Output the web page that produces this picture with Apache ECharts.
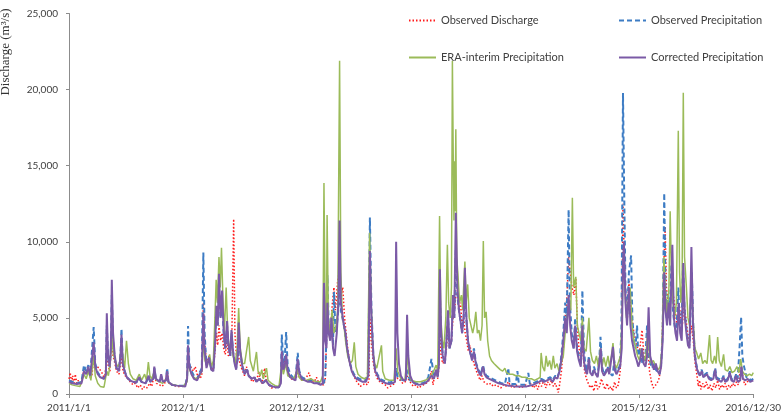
<!DOCTYPE html>
<html>
<head>
<meta charset="utf-8">
<script src="https://cdn.jsdelivr.net/npm/echarts@6/dist/echarts.min.js"></script>
<style>
  html, body { margin: 0; padding: 0; background: #fff; }
  #chart { width: 784px; height: 420px; }
</style>
</head>
<body>
<div id="chart"></div>
<script>
// x = days since 2011/1/1, y = discharge (m3/s)
const xLabels = ['2011/1/1', '2012/1/1', '2012/12/31', '2013/12/31', '2014/12/31', '2015/12/31', '2016/12/30']

const obsDischarge = [
  [0,1000],[4,1400],[8,700],[12,1200],[16,600],[20,1300],[25,700],[30,900],[36,600],[42,800],[48,1700],[55,1300],[62,1600],[68,1100],[74,1300],[79,2500],[84,1900],[90,1800],[96,1700],[102,1500],[108,1300],[114,1000],[121,2500],[126,1800],[131,1500],[137,4000],[141,2500],[147,2000],[152,1500],[160,1300],[168,2500],[173,1500],[180,1200],[188,1000],[196,800],[205,600],[212,700],[220,400],[228,600],[235,300],[242,500],[250,400],[258,700],[265,500],[273,1300],[280,700],[290,600],[298,500],[306,700],[314,1400],[320,700],[330,600],[345,500],[360,500],[372,600],
  [378,1000],[381,3000],[386,1900],[392,1800],[398,1500],[404,1800],[410,1300],[418,1000],[425,1200],[430,6000],[434,3500],[440,2000],[448,2500],[455,1700],[462,1600],[468,3000],[472,4000],[476,3200],[480,4500],[485,3500],[490,4000],[495,3000],[500,2600],[506,3500],[510,2500],[516,2700],[521,3500],[527,11500],[531,4000],[536,2500],[540,2800],[545,2200],[550,1800],[556,1500],[562,1200],[568,1800],[574,1300],[580,1000],[588,800],[595,1100],[600,800],[607,1500],[612,900],[618,700],[626,1700],[632,800],[640,600],[648,400],[656,450],[664,400],[672,450],[678,800],[681,2500],[686,2000],[692,2200],[698,1500],[705,1200],[712,1000],[720,900],[728,1100],[733,1800],[738,1200],[745,900],[752,1000],[760,1100],[768,1400],[775,900],[785,800],[792,1100],[800,700],[808,600],[815,600],
  [820,900],[824,3500],[827,6000],[832,4000],[838,4500],[843,6000],[848,7000],[853,5500],[860,7500],[866,8100],[871,6500],[876,7000],[882,5000],[887,4000],[892,3000],[899,2000],[906,1500],[912,1200],[918,900],[925,700],[932,500],[940,600],[948,700],[955,600],[960,900],[963,5000],[968,3500],[974,2000],[980,1400],[987,1000],[995,800],[1003,700],[1012,600],[1020,400],[1028,500],[1036,600],[1043,700],[1047,1500],[1052,1000],[1060,900],[1068,700],[1076,800],[1082,1200],[1088,900],[1095,700],[1102,500],[1110,600],[1118,400],[1126,500],[1134,600],[1142,700],[1150,800],[1155,1100],[1160,1500],[1165,600],[1170,1200],[1176,1600],[1180,1000],
  [1184,1800],[1187,4000],[1191,2500],[1196,2000],[1203,2200],[1208,3000],[1213,4500],[1218,3000],[1224,3500],[1229,5000],[1234,5500],[1238,6500],[1243,6800],[1248,5500],[1253,6000],[1258,4500],[1263,5000],[1268,4000],[1273,3500],[1278,2800],[1283,3200],[1290,2500],[1296,2000],[1302,1600],[1310,1200],[1316,900],[1322,1200],[1328,800],[1335,700],[1342,600],[1350,700],[1358,500],[1366,600],[1374,500],[1382,400],[1390,600],[1398,500],[1406,800],[1414,500],[1422,400],[1430,600],[1438,500],[1446,400],[1454,500],[1462,600],
  [1470,500],[1478,700],[1486,400],[1494,600],[1500,300],[1506,700],[1512,500],[1520,900],[1526,400],[1532,800],[1538,600],[1544,900],[1550,500],[1556,700],[1562,400],[1566,100],[1570,600],[1576,1500],[1582,3000],[1588,5000],[1594,6500],[1599,9000],[1604,8000],[1610,7000],[1616,6500],[1622,7600],[1627,4500],[1632,3000],[1638,2400],[1644,3000],[1650,1500],[1656,1000],[1662,700],[1668,400],[1674,600],[1680,200],[1686,900],[1692,300],[1698,500],[1704,1000],[1710,600],[1716,300],[1722,700],[1728,300],[1734,500],[1740,200],[1746,800],[1752,400],[1758,600],[1764,1500],[1769,4000],[1773,12500],[1777,9000],[1782,6000],[1787,5000],[1792,7500],[1797,6000],[1802,5000],[1808,4000],[1814,3500],[1820,3000],[1826,2800],[1834,4200],[1840,2500],[1846,2000],[1852,3000],[1858,1500],[1864,800],[1870,400],[1876,300],[1882,700],[1888,1000],[1893,1500],
  [1898,3000],[1903,8000],[1908,11000],[1912,7000],[1917,6000],[1922,5500],[1928,7000],[1934,6500],[1940,5500],[1946,4500],[1952,6000],[1958,5000],[1963,4500],[1968,6000],[1974,5000],[1980,4000],[1986,3500],[1992,4500],[1998,3500],[2004,2000],[2010,1200],[2014,500],[2018,900],[2022,300],[2028,700],[2034,400],[2040,800],[2046,300],[2052,600],[2058,200],[2064,700],[2070,400],[2076,900],[2082,300],[2088,600],[2094,400],[2100,700],[2106,300],[2112,600],[2118,400],[2124,700],[2130,500],[2136,800],[2142,600],[2148,1500],[2152,1800],[2158,900],[2164,600],[2170,800],[2176,700],[2182,900],[2190,800]
]

const obsPrecip = [
  [0,900],[10,800],[25,700],[40,800],[48,1900],[55,1500],[62,1900],[68,1300],[74,1400],[79,4400],[84,2000],[92,1400],[100,1200],[112,1000],[118,1200],[121,4500],[125,2400],[130,1800],[134,2800],[137,6500],[141,3500],[146,2400],[152,1700],[160,1600],[165,2700],[168,4300],[172,2100],[178,1500],[185,1100],[195,900],[205,800],[215,750],[225,1000],[232,800],[245,700],[255,1100],[260,800],[270,1000],[273,1700],[278,1000],[290,800],[295,1200],[300,800],[310,900],[314,1700],[318,800],[330,600],[345,550],[360,550],[372,550],
  [378,1100],[381,4470],[385,2000],[392,1500],[400,1200],[410,1000],[418,1400],[425,1700],[430,9300],[434,4000],[440,1900],[448,2400],[455,1700],[462,1600],[468,3800],[472,5500],[476,4500],[480,7000],[485,5000],[490,6000],[495,4000],[500,3000],[506,4500],[510,3200],[516,2500],[520,4000],[525,2800],[530,2100],[535,1700],[540,2300],[543,4000],[548,2700],[555,1800],[562,1400],[570,1600],[575,1200],[585,1000],[593,1100],[600,800],[610,1000],[620,700],[630,900],[640,600],[650,500],[660,450],[672,450],[678,900],[681,3900],[686,2000],[690,2200],[695,4070],[700,1800],[708,1300],[716,1100],[725,1000],[732,2700],[737,1500],[745,1100],[755,1000],[765,900],[775,900],[785,800],[795,800],[805,700],[815,700],
  [820,1100],[824,4000],[827,7800],[831,4500],[836,3800],[840,5000],[845,3200],[848,6700],[853,4000],[857,4500],[862,5500],[866,7500],[870,5500],[875,5000],[880,4500],[885,3800],[890,3000],[897,2200],[905,1600],[912,1300],[920,1100],[930,1000],[940,900],[950,900],[958,1500],[963,11600],[968,5500],[974,2600],[980,1600],[987,1300],[995,1000],[1005,900],[1015,800],[1025,750],[1035,800],[1043,900],[1047,1700],[1051,1200],[1056,1000],[1062,900],[1070,900],[1078,900],[1082,1600],[1086,1200],[1092,900],[1100,800],[1110,700],[1120,650],[1130,700],[1140,800],[1150,1100],[1160,2300],[1168,1100],[1175,1500],[1180,1200],
  [1184,2500],[1187,6500],[1191,3800],[1196,2600],[1203,2000],[1208,3500],[1213,5000],[1218,3000],[1224,3500],[1229,6000],[1233,5000],[1238,9500],[1243,6500],[1248,5500],[1253,4800],[1258,4000],[1263,5000],[1267,7000],[1272,4800],[1277,3500],[1283,2800],[1290,2300],[1296,3000],[1302,2100],[1310,1600],[1318,1300],[1325,1900],[1330,1400],[1336,1200],[1345,1100],[1355,1000],[1365,900],[1375,800],[1385,700],[1395,650],[1406,1700],[1410,700],[1420,650],[1430,650],[1435,1500],[1440,650],[1450,600],[1460,600],[1470,1380],
  [1475,650],[1485,700],[1495,800],[1505,900],[1512,1000],[1520,900],[1530,1000],[1540,1100],[1548,900],[1556,1200],[1563,1100],[1570,1500],[1576,2600],[1582,4000],[1588,6000],[1593,5000],[1599,12100],[1603,6000],[1609,4000],[1615,3000],[1620,5000],[1626,3000],[1632,2500],[1638,2000],[1643,6800],[1648,3000],[1652,2000],[1658,1500],[1664,2500],[1668,1500],[1675,1300],[1680,1800],[1686,1400],[1692,1200],[1697,2200],[1701,3750],[1706,1800],[1712,1300],[1718,1500],[1724,1800],[1729,1400],[1735,1300],[1740,1200],[1745,2200],[1750,1500],[1756,1400],[1762,1800],[1768,4000],[1773,19780],[1777,13000],[1781,7000],[1786,5000],[1792,8000],[1799,9100],[1803,5000],[1808,3500],[1813,3000],[1818,4500],[1822,2500],[1830,3000],[1835,2000],[1840,1900],[1845,2500],[1850,4500],[1855,2600],[1860,2100],[1866,1700],[1872,2000],[1878,1600],[1884,1500],[1890,1300],
  [1895,2000],[1900,4000],[1905,13200],[1909,7000],[1913,5000],[1918,6500],[1922,5000],[1928,8500],[1933,5500],[1938,4500],[1944,4000],[1950,7000],[1955,4500],[1960,4000],[1965,8500],[1970,5500],[1975,4500],[1980,3500],[1986,3200],[1993,8000],[1998,4500],[2003,2600],[2008,1900],[2013,1500],[2018,1300],[2025,1600],[2030,1200],[2036,1100],[2042,1400],[2048,1100],[2055,1000],[2062,1100],[2068,1700],[2072,1100],[2080,1000],[2088,900],[2095,1200],[2100,900],[2108,1000],[2115,1500],[2120,1000],[2128,900],[2135,1300],[2140,1000],[2146,3000],[2151,5060],[2155,2500],[2160,1850],[2168,1100],[2175,1100],[2182,900],[2190,1000]
]

const eraPrecip = [
  [0,700],[10,600],[20,550],[35,500],[48,1300],[55,1000],[62,1500],[70,900],[79,2500],[84,1200],[92,700],[100,500],[112,450],[118,500],[121,1500],[126,1200],[132,2000],[137,3800],[142,2600],[148,2200],[155,1800],[162,2000],[168,3300],[174,2200],[178,1700],[184,3500],[190,2000],[196,1300],[205,1000],[215,900],[225,1300],[232,900],[242,1300],[248,900],[254,2100],[259,1200],[265,1000],[273,1500],[280,900],[290,800],[300,700],[314,1100],[320,700],[335,600],[350,550],[365,500],
  [378,800],[381,2500],[386,1600],[395,1200],[405,1000],[415,1100],[425,1500],[430,3500],[435,2200],[442,1800],[450,2600],[456,1800],[462,2200],[467,5000],[471,7500],[475,6000],[480,9000],[484,7000],[488,9600],[493,6000],[497,4000],[503,7000],[508,4000],[513,3000],[520,3500],[525,2500],[532,2000],[538,3000],[543,5650],[548,3000],[555,2000],[562,2000],[568,2800],[575,3750],[580,2200],[590,1500],[600,2760],[605,1500],[612,1200],[617,1600],[622,1000],[632,1700],[637,900],[648,700],[660,550],[672,500],[681,2000],[686,1300],[695,2000],[700,1200],[710,1100],[720,1000],[730,1600],[736,1100],[745,900],[760,900],[775,1000],[790,800],[805,800],
  [812,1200],[816,13860],[820,5000],[824,4000],[826,11760],[830,5000],[836,4000],[842,5500],[848,4000],[855,4500],[860,5500],[866,21900],[870,8000],[875,5000],[880,4500],[885,3500],[892,2500],[900,2000],[907,2200],[913,3400],[918,1800],[925,1300],[935,1100],[945,1000],[955,1100],[962,10600],[967,6000],[972,3000],[978,2000],[985,1700],[1000,3200],[1004,1500],[1012,1000],[1025,900],[1040,900],[1047,3000],[1052,1500],[1062,1000],[1075,900],[1082,2500],[1087,1400],[1095,900],[1110,800],[1125,800],[1140,900],[1155,1100],[1165,1400],[1175,1900],[1180,1500],
  [1186,11700],[1190,5000],[1195,3500],[1200,3000],[1206,5000],[1211,9800],[1215,6000],[1220,5000],[1224,7000],[1227,21900],[1230,15000],[1232,11400],[1234,15300],[1236,12000],[1238,17400],[1241,9000],[1245,7800],[1250,6000],[1256,6500],[1260,5500],[1263,7000],[1267,8700],[1271,6000],[1276,7200],[1281,5000],[1286,5100],[1292,4000],[1297,4500],[1302,5400],[1307,4000],[1312,4200],[1317,3500],[1322,4500],[1326,10050],[1330,5000],[1335,5400],[1340,3500],[1346,2500],[1352,2200],[1360,2000],[1370,1800],[1380,1600],[1388,1500],[1395,1700],[1400,1400],[1410,1300],[1420,1300],[1430,1200],[1440,1200],[1450,1100],[1460,1100],
  [1470,1000],[1480,1000],[1490,900],[1500,1000],[1508,1100],[1511,2700],[1516,1800],[1522,1500],[1527,2500],[1532,1800],[1538,2200],[1544,1600],[1550,2500],[1555,1700],[1562,2000],[1568,1500],[1575,2000],[1582,2500],[1588,4000],[1594,5000],[1600,6000],[1606,5500],[1611,12900],[1615,7000],[1622,7700],[1627,4500],[1632,4000],[1638,3500],[1643,5000],[1648,3000],[1655,2800],[1664,5000],[1669,2800],[1675,2200],[1682,2000],[1688,2500],[1694,1800],[1701,3000],[1706,1800],[1712,2400],[1718,1800],[1725,2500],[1730,1800],[1736,2500],[1741,3350],[1746,2000],[1752,1700],[1758,1800],[1765,2500],[1770,5000],[1774,9000],[1778,7500],[1784,5000],[1790,6000],[1796,7000],[1802,4500],[1808,3500],[1814,3000],[1820,2500],[1826,2200],[1832,3000],[1838,2500],[1845,2200],[1852,4000],[1858,2500],[1864,2000],[1870,2200],[1878,1800],[1886,1600],[1892,1800],
  [1898,3000],[1904,9000],[1908,7000],[1914,5000],[1920,7000],[1924,12000],[1928,8000],[1933,6000],[1938,5000],[1944,6000],[1950,17300],[1954,8000],[1958,6000],[1962,7000],[1966,19800],[1970,9000],[1976,7000],[1981,5000],[1986,4500],[1992,7500],[1997,5000],[2003,3000],[2009,2700],[2015,2300],[2022,2700],[2028,2000],[2035,2200],[2042,2000],[2050,3880],[2055,2200],[2060,2000],[2066,2500],[2071,2000],[2076,3750],[2081,2200],[2088,1800],[2095,2600],[2100,1600],[2108,1500],[2115,1800],[2122,1400],[2130,1500],[2138,1800],[2144,1400],[2150,2300],[2155,1500],[2162,1300],[2170,1200],[2178,1300],[2185,1200],[2190,1400]
]

const corrPrecip = [
  [0,800],[10,700],[25,650],[40,700],[48,1500],[55,1300],[62,1800],[68,1200],[74,1300],[79,3400],[84,1800],[92,1300],[100,1100],[112,1000],[118,1300],[121,5300],[125,2500],[130,1800],[134,3000],[137,7500],[141,4000],[146,2600],[152,1700],[160,1500],[165,2600],[168,3900],[172,2000],[178,1500],[185,1100],[195,900],[205,800],[215,750],[225,1100],[232,800],[245,700],[255,1200],[260,800],[270,1000],[273,1800],[278,1000],[290,800],[295,1300],[300,800],[310,900],[314,1500],[318,800],[330,600],[345,550],[360,520],[372,500],
  [378,1000],[381,3200],[385,1800],[392,1300],[400,1000],[410,900],[418,1300],[425,1500],[430,5300],[434,3000],[440,1700],[448,2400],[455,1600],[462,1500],[468,3500],[472,5800],[476,4500],[480,7900],[485,5000],[490,6800],[495,4200],[500,3000],[506,4800],[510,3300],[516,2500],[520,4200],[525,2800],[530,2000],[535,1600],[540,2500],[543,4700],[548,2800],[555,1800],[562,1300],[570,1600],[575,1200],[585,1000],[593,1100],[600,800],[610,1000],[620,700],[630,900],[640,600],[650,500],[660,450],[672,450],[678,700],[681,2800],[686,1600],[690,1800],[695,2600],[700,1500],[708,1100],[716,1000],[725,900],[732,2300],[737,1400],[745,1000],[755,900],[765,800],[775,800],[785,700],[795,700],[805,600],[812,700],
  [816,7300],[820,3500],[824,3000],[827,6000],[831,4000],[836,3500],[840,5000],[845,3000],[850,2500],[857,4000],[862,6000],[866,11400],[870,6000],[875,5200],[880,4500],[885,4000],[890,3000],[897,2200],[905,1500],[912,1200],[920,1000],[930,900],[940,800],[950,800],[958,1200],[963,9400],[968,5000],[974,2500],[980,1500],[987,1200],[995,900],[1005,800],[1015,700],[1025,650],[1035,700],[1043,800],[1047,10000],[1051,4000],[1056,2000],[1062,1200],[1070,900],[1078,900],[1082,5200],[1086,2500],[1092,1200],[1100,800],[1110,650],[1120,600],[1130,650],[1140,700],[1150,900],[1160,1200],[1168,1000],[1175,1600],[1180,1100],
  [1184,2000],[1187,8200],[1191,4000],[1196,2500],[1203,2000],[1208,3500],[1213,5500],[1218,3000],[1224,3500],[1229,6500],[1233,5000],[1238,11900],[1243,7000],[1248,5500],[1253,4800],[1258,4000],[1263,5000],[1267,8300],[1272,5000],[1277,3500],[1283,2800],[1290,2200],[1296,2800],[1302,2000],[1310,1500],[1318,1200],[1325,1800],[1330,1300],[1336,1100],[1345,1000],[1355,900],[1365,800],[1375,700],[1385,650],[1395,600],[1405,550],[1415,550],[1425,500],[1435,500],[1445,500],[1455,500],[1465,500],
  [1475,550],[1485,600],[1495,700],[1505,800],[1512,900],[1520,800],[1530,900],[1540,1000],[1548,800],[1556,1100],[1563,1000],[1570,1500],[1576,2300],[1582,3500],[1588,5000],[1593,4000],[1599,6500],[1604,4500],[1609,3500],[1615,3000],[1620,4500],[1626,2800],[1632,2200],[1638,1800],[1643,4500],[1648,2200],[1652,1600],[1658,1300],[1664,2300],[1668,1400],[1675,1200],[1680,1600],[1686,1300],[1692,1100],[1697,2000],[1702,3000],[1706,1500],[1712,1200],[1718,1400],[1724,1700],[1729,1300],[1735,1200],[1741,3100],[1746,1600],[1752,1300],[1758,1400],[1764,1800],[1769,3000],[1773,8500],[1776,10000],[1781,6000],[1786,4500],[1792,7000],[1797,4500],[1802,3500],[1807,3000],[1812,2500],[1817,2200],[1822,1800],[1828,2200],[1834,3000],[1839,2000],[1845,1800],[1850,2500],[1855,5700],[1860,2500],[1866,2000],[1872,1600],[1878,2000],[1884,1500],[1890,1300],
  [1895,1800],[1900,3500],[1905,8000],[1909,5500],[1914,4500],[1919,6000],[1924,4500],[1931,9800],[1936,5000],[1941,4000],[1946,3500],[1951,6000],[1956,4000],[1961,3500],[1966,8600],[1971,5000],[1976,4000],[1981,3200],[1986,3000],[1992,9660],[1997,4500],[2003,2500],[2009,1700],[2014,1400],[2019,1200],[2025,1500],[2030,1100],[2036,1000],[2042,1300],[2048,1000],[2055,900],[2062,1000],[2068,1600],[2072,1000],[2080,900],[2088,800],[2095,1100],[2100,800],[2108,900],[2115,1400],[2120,900],[2128,800],[2135,1200],[2140,800],[2148,900],[2152,1800],[2157,1000],[2165,900],[2172,1000],[2180,800],[2190,900]
]

const chart = echarts.init(document.getElementById('chart'))

const legendText = { fontFamily: 'Lato', fontSize: 11, color: '#404040' }
const mkLegend = (name, left, top) => ({
  data: [name],
  left,
  top,
  itemWidth: 27,
  itemHeight: 10,
  itemGap: 0,
  itemStyle: { opacity: 0 },
  textStyle: legendText,
})

chart.setOption({
  animation: false,
  textStyle: { fontFamily: 'Lato' },
  grid: { left: 69, right: 26, top: 13.5, bottom: 26 },
  legend: [
    mkLegend('Observed Discharge', 403, 10),
    mkLegend('Observed Precipitation', 613, 10),
    mkLegend('ERA-interim Precipitation', 403, 47),
    mkLegend('Corrected Precipitation', 613, 47),
  ],
  graphic: [
    {
      type: 'text',
      x: 6,
      y: 52,
      rotation: Math.PI / 2,
      style: {
        text: 'Discharge (m³/s)',
        font: '13px "Liberation Serif"',
        fill: '#333',
        textAlign: 'center',
        textVerticalAlign: 'middle',
      },
    },
  ],
  xAxis: {
    type: 'value',
    min: 0,
    max: 2190,
    interval: 365,
    axisLine: { lineStyle: { color: '#8c8c8c' } },
    axisTick: { length: 4, lineStyle: { color: '#8c8c8c' } },
    axisLabel: {
      fontSize: 10,
      color: '#404040',
      margin: 9,
      formatter: (v) => xLabels[Math.round(v / 365)],
    },
    splitLine: { show: false },
  },
  yAxis: {
    type: 'value',
    min: 0,
    max: 25000,
    interval: 5000,
    axisLine: { show: true, lineStyle: { color: '#8c8c8c' } },
    axisTick: { show: true, length: 3, lineStyle: { color: '#8c8c8c' } },
    axisLabel: {
      fontSize: 10,
      color: '#404040',
      margin: 11,
      formatter: (v) => v.toLocaleString('en-US'),
    },
    splitLine: { show: false },
  },
  series: [
    {
      name: 'Observed Discharge',
      type: 'line',
      symbol: 'none',
      data: obsDischarge,
      lineStyle: { color: '#ff1a1a', width: 1.5, type: [1.5, 2] },
      itemStyle: { color: '#ff1a1a' },
    },
    {
      name: 'Observed Precipitation',
      type: 'line',
      symbol: 'none',
      data: obsPrecip,
      lineStyle: { color: '#3d7cc4', width: 2, type: [5, 3] },
      itemStyle: { color: '#3d7cc4' },
    },
    {
      name: 'ERA-interim Precipitation',
      type: 'line',
      symbol: 'none',
      data: eraPrecip,
      lineStyle: { color: '#9bbb59', width: 1.5 },
      itemStyle: { color: '#9bbb59' },
    },
    {
      name: 'Corrected Precipitation',
      type: 'line',
      symbol: 'none',
      data: corrPrecip,
      lineStyle: { color: '#7b5aa6', width: 2 },
      itemStyle: { color: '#7b5aa6' },
    },
  ],
})
</script>
</body>
</html>
